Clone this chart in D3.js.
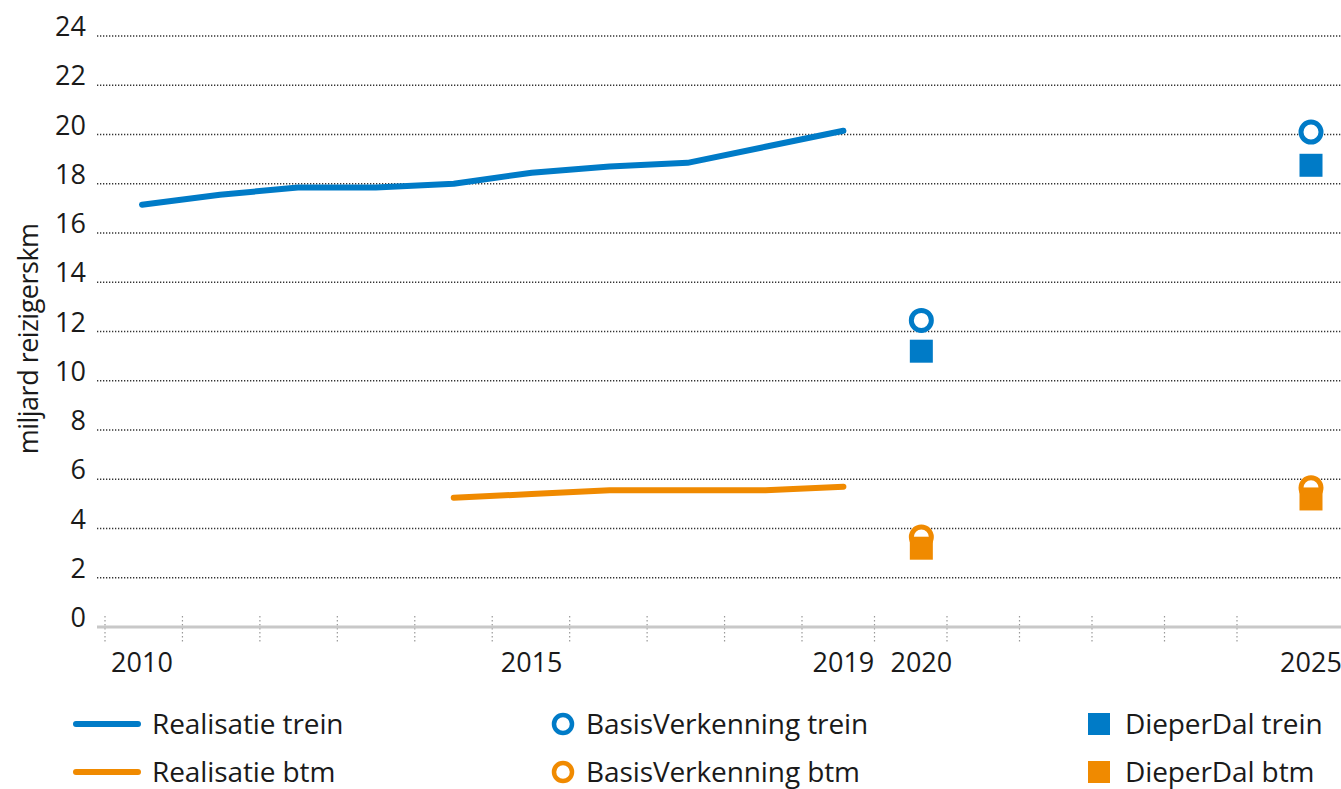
<!DOCTYPE html>
<html>
<head>
<meta charset="utf-8">
<script src="https://cdn.jsdelivr.net/npm/d3@7"></script>
<style>
  body { margin: 0; background: #fff; }
  text { font-family: "Open Sans", Lato, sans-serif; fill: #1a1a1a; }
</style>
</head>
<body>
<div id="chart"></div>
<script>

// data
const years = [2010, 2011, 2012, 2013, 2014, 2015, 2016, 2017, 2018, 2019];
const treinRealisatie = [17.15, 17.55, 17.85, 17.85, 18.0, 18.45, 18.7, 18.85, 19.5, 20.15];
const btmYears = [2014, 2015, 2016, 2017, 2018, 2019];
const btmRealisatie = [5.25, 5.4, 5.55, 5.55, 5.55, 5.7];
const scenarioYears = [2020, 2025];
const basisTrein = [12.45, 20.1];
const dieperTrein = [11.2, 18.75];
const basisBtm = [3.65, 5.65];
const dieperBtm = [3.2, 5.2];
const yTicks = [0, 2, 4, 6, 8, 10, 12, 14, 16, 18, 20, 22, 24];
const xLabels = [2010, 2015, 2019, 2020, 2025];
const tickYears = d3.range(2009.5, 2025.5, 1);

const blue = "#007bc7";
const orange = "#f08a00";

const width = 1341, height = 789;

const svg = d3.select("#chart").append("svg")
    .attr("width", width)
    .attr("height", height);

// scales
const x = d3.scaleLinear().domain([2010, 2025]).range([142, 1311]);
// the category ticks in the original are not spaced evenly
const xTick = d3.scaleLinear().domain([2009.5, 2018.5, 2024.5]).range([105, 802, 1237]);
const y = d3.scaleLinear().domain([0, 24]).range([627, 36]);

// gridlines
svg.append("g")
    .selectAll("line")
    .data(yTicks.filter(d => d > 0))
    .enter().append("line")
    .attr("x1", 97)
    .attr("x2", width)
    .attr("y1", d => y(d))
    .attr("y2", d => y(d))
    .style("stroke", "#333")
    .style("stroke-width", 1.3)
    .style("stroke-dasharray", "1.3,1.7");

// y labels
svg.append("g")
    .selectAll("text")
    .data(yTicks)
    .enter().append("text")
    .attr("x", 86)
    .attr("y", d => y(d))
    .attr("text-anchor", "end")
    .style("font-size", "27px")
    .text(d => d);

svg.append("text")
    .attr("transform", `translate(38, ${y(11.7)}) rotate(-90)`)
    .attr("text-anchor", "middle")
    .style("font-size", "27px")
    .style("letter-spacing", "-0.5px")
    .text("miljard reizigerskm");

// x axis
svg.append("g")
    .selectAll("line")
    .data(tickYears)
    .enter().append("line")
    .attr("x1", d => xTick(d))
    .attr("x2", d => xTick(d))
    .attr("y1", 616)
    .attr("y2", 644)
    .style("stroke", "#999")
    .style("stroke-width", 1.2)
    .style("stroke-dasharray", "1.5,2.5");

svg.append("line")
    .attr("x1", 97)
    .attr("x2", width)
    .attr("y1", y(0))
    .attr("y2", y(0))
    .style("stroke", "#c8c8c8")
    .style("stroke-width", 3);

svg.append("g")
    .selectAll("text")
    .data(xLabels)
    .enter().append("text")
    .attr("x", d => x(d))
    .attr("y", 672)
    .attr("text-anchor", "middle")
    .style("font-size", "27px")
    .text(d => d);

// lines
const line = d3.line()
    .x(d => x(d[0]))
    .y(d => y(d[1]));

svg.append("path")
    .datum(d3.zip(years, treinRealisatie))
    .attr("d", line)
    .style("fill", "none")
    .style("stroke", blue)
    .style("stroke-width", 6)
    .style("stroke-linecap", "round")
    .style("stroke-linejoin", "round");

svg.append("path")
    .datum(d3.zip(btmYears, btmRealisatie))
    .attr("d", line)
    .style("fill", "none")
    .style("stroke", orange)
    .style("stroke-width", 6)
    .style("stroke-linecap", "round")
    .style("stroke-linejoin", "round");

// scenario markers
function circles(vals, color) {
    svg.append("g")
        .selectAll("circle")
        .data(d3.zip(scenarioYears, vals))
        .enter().append("circle")
        .attr("cx", d => x(d[0]))
        .attr("cy", d => y(d[1]))
        .attr("r", 10)
        .style("fill", "#fff")
        .style("stroke", color)
        .style("stroke-width", 5);
}

function squares(vals, color) {
    let s = 23;
    svg.append("g")
        .selectAll("rect")
        .data(d3.zip(scenarioYears, vals))
        .enter().append("rect")
        .attr("x", d => x(d[0]) - s / 2)
        .attr("y", d => y(d[1]) - s / 2)
        .attr("width", s)
        .attr("height", s)
        .style("fill", color);
}

circles(basisTrein, blue);
circles(basisBtm, orange);
squares(dieperTrein, blue);
squares(dieperBtm, orange);

// legend
const legendItems = [
    {label: "Realisatie trein", type: "line", color: blue, col: 0, row: 0},
    {label: "Realisatie btm", type: "line", color: orange, col: 0, row: 1},
    {label: "BasisVerkenning trein", type: "circle", color: blue, col: 1, row: 0},
    {label: "BasisVerkenning btm", type: "circle", color: orange, col: 1, row: 1},
    {label: "DieperDal trein", type: "square", color: blue, col: 2, row: 0},
    {label: "DieperDal btm", type: "square", color: orange, col: 2, row: 1}
];
const colX = [73, 552, 1088];
const rowY = [724, 772];

const legend = svg.append("g").selectAll("g")
    .data(legendItems)
    .enter().append("g")
    .attr("transform", d => `translate(${colX[d.col]}, ${rowY[d.row]})`);

legend.filter(d => d.type === "line").append("line")
    .attr("x1", 3).attr("x2", 65)
    .style("stroke", d => d.color)
    .style("stroke-width", 6)
    .style("stroke-linecap", "round");

legend.filter(d => d.type === "circle").append("circle")
    .attr("cx", 11)
    .attr("r", 9)
    .style("fill", "#fff")
    .style("stroke", d => d.color)
    .style("stroke-width", 4.5);

legend.filter(d => d.type === "square").append("rect")
    .attr("x", 0).attr("y", -11)
    .attr("width", 22).attr("height", 22)
    .style("fill", d => d.color);

legend.append("text")
    .attr("x", d => d.type === "line" ? 79 : (d.type === "circle" ? 34 : 37))
    .attr("y", 10)
    .style("font-size", "28px")
    .style("letter-spacing", "-0.1px")
    .text(d => d.label);

</script>
</body>
</html>
